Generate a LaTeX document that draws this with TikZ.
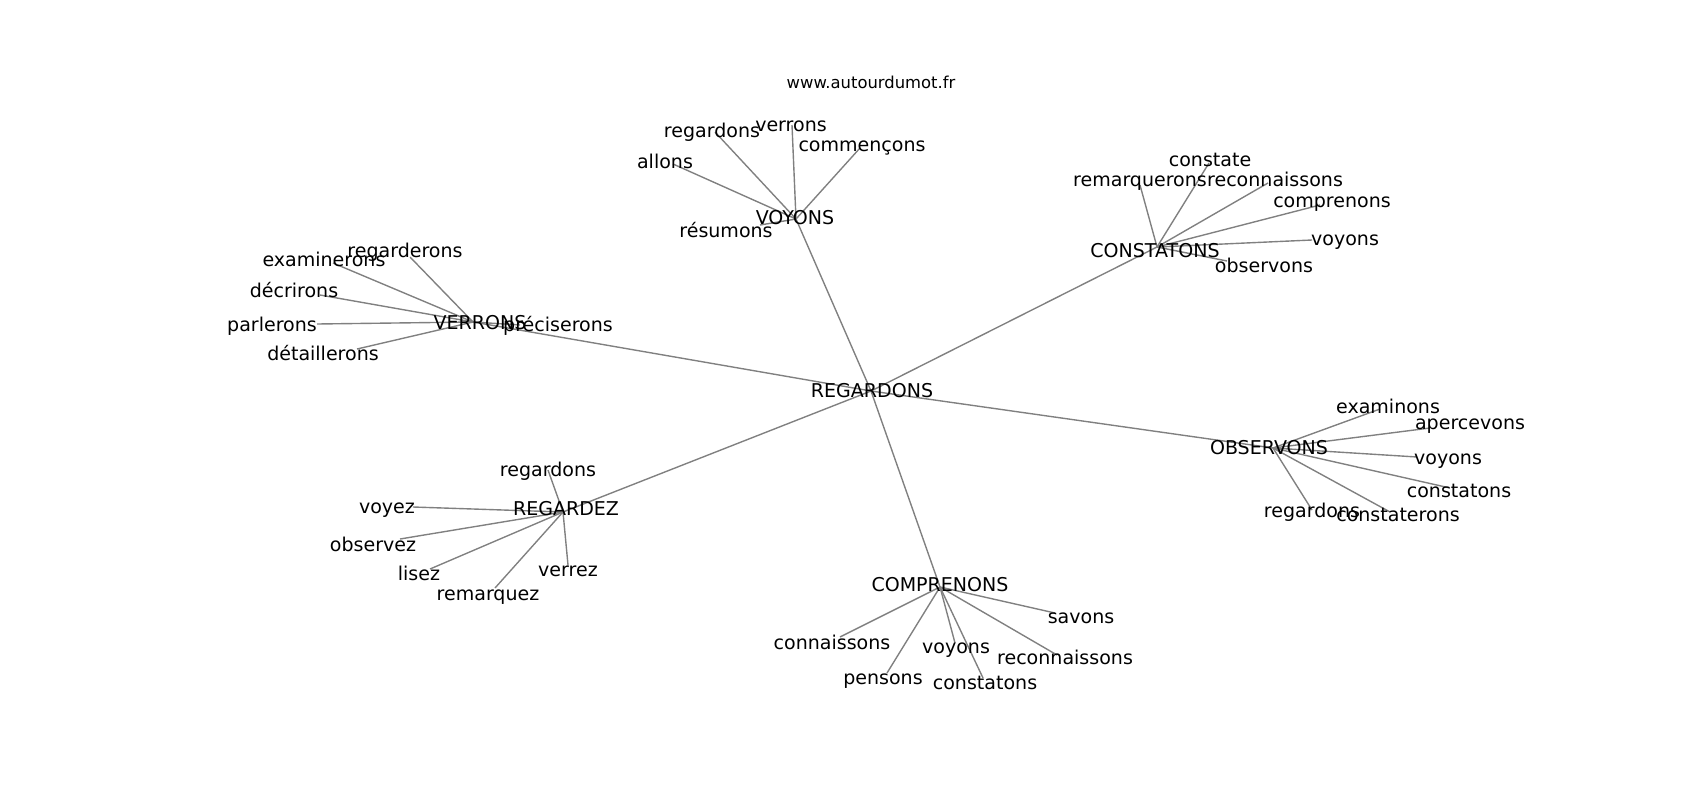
\documentclass[tikz,border=0pt]{standalone}
\usepackage{fontspec}
\setmainfont{DejaVu Sans}
\begin{document}
\begin{tikzpicture}[x=0.72pt,y=-0.72pt,
  lbl/.style={inner sep=0pt,anchor=center,yshift=-1.9pt,font=\fontsize{13.7}{16}\selectfont,text height=0.76em,text depth=0.236em,text=black},
  ttl/.style={inner sep=0pt,anchor=center,yshift=-1.9pt,font=\fontsize{11.8}{14}\selectfont,text height=0.76em,text depth=0.236em,text=black},
  edge/.style={draw=gray,line width=1pt}]
\useasboundingbox (0,0) rectangle (1700,800);
% graph vertices
\coordinate (R) at (871,391);
\coordinate (V) at (796,219);
\coordinate (C) at (1157,247);
\coordinate (E) at (473,322);
\coordinate (O) at (1273,448);
\coordinate (G) at (563,512);
\coordinate (P) at (940,587);
% VOYONS children
\coordinate (v1) at (673,164);
\coordinate (v2) at (715,132);
\coordinate (v3) at (792,125);
\coordinate (v4) at (860,148);
\coordinate (v5) at (760,225);
% VERRONS children
\coordinate (e1) at (410,257);
\coordinate (e2) at (333,263);
\coordinate (e3) at (320,295);
\coordinate (e4) at (317,324);
\coordinate (e5) at (357,349);
\coordinate (e6) at (520,325);
% CONSTATONS children
\coordinate (c1) at (1209,163);
\coordinate (c2) at (1140,185);
\coordinate (c3) at (1268,183);
\coordinate (c4) at (1320,205);
\coordinate (c5) at (1312,240);
\coordinate (c6) at (1227,261);
% OBSERVONS children
\coordinate (o1) at (1380,409);
\coordinate (o2) at (1430,428);
\coordinate (o3) at (1417,457);
\coordinate (o4) at (1450,488);
\coordinate (o5) at (1312,510);
\coordinate (o6) at (1390,512);
% REGARDEZ children
\coordinate (g1) at (548,470);
\coordinate (g2) at (413,507);
\coordinate (g3) at (400,539);
\coordinate (g4) at (430,569);
\coordinate (g5) at (495,588);
\coordinate (g6) at (568,565);
% COMPRENONS children
\coordinate (p1) at (840,637);
\coordinate (p2) at (887,673);
\coordinate (p3) at (955,643);
\coordinate (p4) at (983,678);
\coordinate (p5) at (1057,655);
\coordinate (p6) at (1055,613);
% edges
\foreach \h in {V,C,E,O,G,P} \draw[edge] (R) -- (\h);
\foreach \c in {v1,v2,v3,v4,v5} \draw[edge] (V) -- (\c);
\foreach \c in {e1,e2,e3,e4,e5,e6} \draw[edge] (E) -- (\c);
\foreach \c in {c1,c2,c3,c4,c5,c6} \draw[edge] (C) -- (\c);
\foreach \c in {o1,o2,o3,o4,o5,o6} \draw[edge] (O) -- (\c);
\foreach \c in {g1,g2,g3,g4,g5,g6} \draw[edge] (G) -- (\c);
\foreach \c in {p1,p2,p3,p4,p5,p6} \draw[edge] (P) -- (\c);
% title
\node[ttl] (title) at (871,82) {www.autourdumot.fr};
% labels
\node[lbl] (tR) at (872,391.7) {REGARDONS};
\node[lbl] (tV) at (795,218) {VOYONS};
\node[lbl] (tC) at (1155,251.5) {CONSTATONS};
\node[lbl] (tE) at (480,323.5) {VERRONS};
\node[lbl] (tO) at (1269,448) {OBSERVONS};
\node[lbl] (tG) at (566,509) {REGARDEZ};
\node[lbl] (tP) at (940,585.7) {COMPRENONS};
\node[lbl] (tv1) at (665,162) {allons};
\node[lbl] (tv2) at (712,131) {regardons};
\node[lbl] (tv3) at (791,125) {verrons};
\node[lbl] (tv4) at (862,145) {commençons};
\node[lbl] (tv5) at (726,231.7) {résumons};
\node[lbl] (te1) at (405,251) {regarderons};
\node[lbl] (te2) at (324,260) {examinerons};
\node[lbl] (te3) at (294,291.5) {décrirons};
\node[lbl] (te4) at (272,325) {parlerons};
\node[lbl] (te5) at (323,354) {détaillerons};
\node[lbl] (te6) at (558,325) {préciserons};
\node[lbl] (tc1) at (1210,160) {constate};
\node[lbl] (tc2) at (1140,180) {remarquerons};
\node[lbl] (tc3) at (1275,180) {reconnaissons};
\node[lbl] (tc4) at (1332,201) {comprenons};
\node[lbl] (tc5) at (1345,239) {voyons};
\node[lbl] (tc6) at (1264,266) {observons};
\node[lbl] (to1) at (1388,407) {examinons};
\node[lbl] (to2) at (1470,423) {apercevons};
\node[lbl] (to3) at (1448,458) {voyons};
\node[lbl] (to4) at (1459,491.7) {constatons};
\node[lbl] (to5) at (1312,511.7) {regardons};
\node[lbl] (to6) at (1398,515) {constaterons};
\node[lbl] (tg1) at (548,470) {regardons};
\node[lbl] (tg2) at (387,507) {voyez};
\node[lbl] (tg3) at (373,545) {observez};
\node[lbl] (tg4) at (419,574) {lisez};
\node[lbl] (tg5) at (488,594) {remarquez};
\node[lbl] (tg6) at (568,570) {verrez};
\node[lbl] (tp1) at (832,643) {connaissons};
\node[lbl] (tp2) at (883,678) {pensons};
\node[lbl] (tp3) at (956,647) {voyons};
\node[lbl] (tp4) at (985,683) {constatons};
\node[lbl] (tp5) at (1065,658) {reconnaissons};
\node[lbl] (tp6) at (1081,617) {savons};
\end{tikzpicture}
\end{document}
